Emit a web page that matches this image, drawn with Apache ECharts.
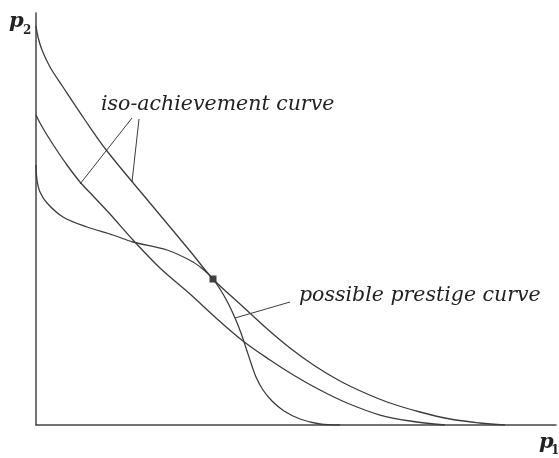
<!DOCTYPE html>
<html>
<head>
<meta charset="utf-8">
<script src="https://cdn.jsdelivr.net/npm/echarts@6/dist/echarts.min.js"></script>
<style>
  html, body { margin: 0; padding: 0; background: #fff; }
  #main { width: 559px; height: 458px; }
</style>
</head>
<body>
<div id="main"></div>
<script>
// curve points, [p1, p2]
var isoHigh = [[0,399],[2,388],[6,375],[14,358],[27,338],[49,305],[71,274],[114,222],[154,174],[177,146],
    [204,121],[229,98],[254,77],[279,59],[304,44],[329,32],[354,22],[384,13],[414,6],[444,2],[469,0]];
var isoLow = [[0,310],[4,302],[11,290],[20,276],[31,260],[44,243],[59,227],[74,211],[97,185],[124,157],
    [154,131],[179,108],[207,84],[234,65],[259,49],[284,35],[311,22],[344,10],[374,4],[409,0]];
var prestige = [[0,260],[1,245],[4,233],[11,222],[27,208],[51,198],[77,190],[97,183],[131,175],[157,163],
    [169,154],[177,146],[184,136],[192,122],[199,107],[205,92],[210,77],[215,62],[220,48],[227,35],
    [236,24],[248,14],[264,6],[284,1],[304,0]];
var optimum = [[177,146]];

// leader lines from the labels to the curves
var leaderIso1 = [[96,307],[44,241]];
var leaderIso2 = [[103,306],[96,243]];
var leaderPrestige = [[254,123],[199,107]];

var labelIso = 'iso-achievement curve';
var labelPrestige = 'possible prestige curve';

window.addEventListener('load', function () {
    var myChart = echarts.init(document.getElementById('main'));

    var curveStyle = { color: '#3c3c3c', width: 1.3 };
    var leaderStyle = { color: '#3c3c3c', width: 1 };
    var labelFont = 'italic 20.5px "DejaVu Serif", serif';
    var axisFont = 'italic bold 21px "DejaVu Serif", serif';
    var subFont = 'bold 12px "DejaVu Serif", serif';

    function curve(data) {
        return {
            type: 'line', data: data, smooth: 0.35,
            showSymbol: false, lineStyle: curveStyle, silent: true
        };
    }
    function leader(data) {
        return { type: 'line', data: data, showSymbol: false, lineStyle: leaderStyle, silent: true };
    }
    function txt(s, x, y, font) {
        return { type: 'text', left: x, top: y, style: { text: s, font: font, fill: '#222' } };
    }

    var option = {
        animation: false,
        backgroundColor: '#fff',
        grid: { left: 36, right: 3, top: 13, bottom: 33 },
        xAxis: {
            type: 'value', min: 0, max: 520,
            axisLine: { show: true, lineStyle: { color: '#444', width: 1.5 } },
            axisTick: { show: false }, axisLabel: { show: false }, splitLine: { show: false }
        },
        yAxis: {
            type: 'value', min: 0, max: 412,
            axisLine: { show: true, lineStyle: { color: '#444', width: 1.5 } },
            axisTick: { show: false }, axisLabel: { show: false }, splitLine: { show: false }
        },
        series: [
            curve(isoHigh),
            curve(isoLow),
            curve(prestige),
            leader(leaderIso1),
            leader(leaderIso2),
            leader(leaderPrestige),
            {
                type: 'scatter', data: optimum, symbol: 'rect', symbolSize: 7,
                itemStyle: { color: '#111' }, silent: true
            }
        ],
        graphic: [
            txt(labelIso, 101, 95, labelFont),
            txt(labelPrestige, 299, 286, labelFont),
            txt('p', 9, 11, axisFont),
            txt('2', 23, 25, subFont),
            txt('p', 539, 432, axisFont),
            txt('1', 551, 445, subFont)
        ]
    };

    myChart.setOption(option);
});
</script>
</body>
</html>
